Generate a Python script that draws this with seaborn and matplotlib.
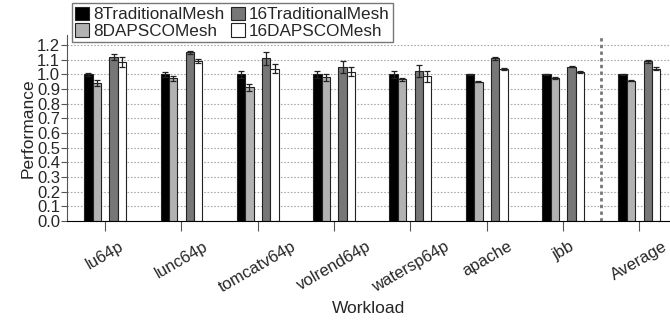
import numpy as np
import pandas as pd
import matplotlib
matplotlib.use('Agg')
import matplotlib.pyplot as plt
import matplotlib.patches as mpatches
import matplotlib.colors as mcolors
from matplotlib.container import BarContainer
import seaborn as sns

# ДАННЫЕ
workloads = ['lu64p', 'lunc64p', 'tomcatv64p', 'volrend64p', 'watersp64p', 'apache', 'jbb', 'Average']
series = ['8TraditionalMesh', '8DAPSCOMesh', '16TraditionalMesh', '16DAPSCOMesh']

trad8 = [1.00, 1.00, 1.00, 1.00, 1.00, 1.00, 1.00, 1.00]
dapsco8 = [0.943, 0.973, 0.911, 0.98, 0.966, 0.95, 0.978, 0.958]
trad16 = [1.12, 1.15, 1.109, 1.052, 1.025, 1.109, 1.052, 1.09]
dapsco16 = [1.086, 1.093, 1.04, 1.018, 0.988, 1.038, 1.017, 1.04]

trad8_err = [0.01, 0.017, 0.022, 0.025, 0.025, 0.004, 0.003, 0.005]
dapsco8_err = [0.02, 0.017, 0.025, 0.025, 0.012, 0.004, 0.007, 0.005]
trad16_err = [0.022, 0.01, 0.042, 0.04, 0.04, 0.008, 0.003, 0.01]
dapsco16_err = [0.035, 0.012, 0.03, 0.03, 0.038, 0.005, 0.005, 0.01]

colors = ['#000000', '#b2b2b2', '#777777', '#ffffff']
# _________________________________________________

gap = ' '  # пустое место между парами столбцов
rows = []
for vals, name in zip([trad8, dapsco8, trad16, dapsco16], series):
    for w, v in zip(workloads, vals):
        rows.append({'Workload': w, 'Config': name, 'Performance': v})
for w in workloads:
    rows.append({'Workload': w, 'Config': gap, 'Performance': np.nan})
df = pd.DataFrame(rows)

all_errs = [trad8_err, dapsco8_err, trad16_err, dapsco16_err]
hue_order = [series[0], series[1], gap, series[2], series[3]]
palette = {series[0]: colors[0], series[1]: colors[1], gap: '#123456',
           series[2]: colors[2], series[3]: colors[3]}

sns.set_style('white')
plt.rcParams['font.family'] = ['Liberation Sans', 'DejaVu Sans']

fig = plt.figure(figsize=(6.7, 3.23), dpi=100)
ax = fig.add_axes([0.1, 0.316, 0.9, 0.576])

sns.barplot(data=df, x='Workload', y='Performance', hue='Config',
            order=workloads, hue_order=hue_order, palette=palette,
            width=0.55, errorbar=None, edgecolor='#222222', linewidth=0.8,
            ax=ax, legend=False)

# планки погрешностей: столбцы узнаю по цвету заливки
bar_conts = [c for c in ax.containers if isinstance(c, BarContainer)]
for cont in bar_conts:
    if len(cont.patches) == 0:
        continue
    fc = mcolors.to_hex(cont.patches[0].get_facecolor())
    if fc not in colors:
        continue
    err = all_errs[colors.index(fc)]
    xs = [p.get_x() + p.get_width() / 2 for p in cont.patches]
    hs = [p.get_height() for p in cont.patches]
    ax.errorbar(xs, hs, yerr=err, fmt='none', ecolor='#222222',
                elinewidth=0.9, capsize=2.5, capthick=0.9, zorder=5)

ax.set_ylim(0, 1.27)
ax.set_xlim(-0.5, 7.4)
ax.set_yticks(np.arange(0, 1.21, 0.1))
ax.set_yticklabels([f'{t:.1f}' for t in np.arange(0, 1.21, 0.1)])
ax.yaxis.grid(True, linestyle=(0, (1.5, 1.5)), color='#aaaaaa', linewidth=0.8)
ax.set_axisbelow(True)
ax.axvline(6.5, color='#777777', linestyle=(0, (1.2, 1.2)), linewidth=2)

for s in ['top', 'right']:
    ax.spines[s].set_visible(False)
ax.spines['left'].set_color('#555555')
ax.spines['bottom'].set_color('#000000')
ax.tick_params(axis='y', direction='out', length=4, color='#555555',
               labelsize=12, left=True, pad=1)
ax.tick_params(axis='x', direction='out', length=7, color='#555555',
               labelsize=12, bottom=True, pad=6)
plt.setp(ax.get_xticklabels(), rotation=30, ha='center')

ax.set_xlabel('Workload', fontsize=12.5, labelpad=4)
ax.set_ylabel('Performance', fontsize=12.5, labelpad=1)

handles = [mpatches.Patch(facecolor=c, edgecolor='#222222', linewidth=0.8, label=n)
           for c, n in zip(colors, series)]
leg = fig.legend(handles=handles, ncol=2, loc='upper left',
                 bbox_to_anchor=(0.107, 0.99), fontsize=12.3,
                 frameon=True, fancybox=False, edgecolor='#555555',
                 handlelength=0.8, handleheight=0.8, handletextpad=0.25,
                 columnspacing=0.4, labelspacing=0.08, borderpad=0.2,
                 borderaxespad=0)
leg.get_frame().set_linewidth(1.0)

plt.savefig('out.png', dpi=100)
